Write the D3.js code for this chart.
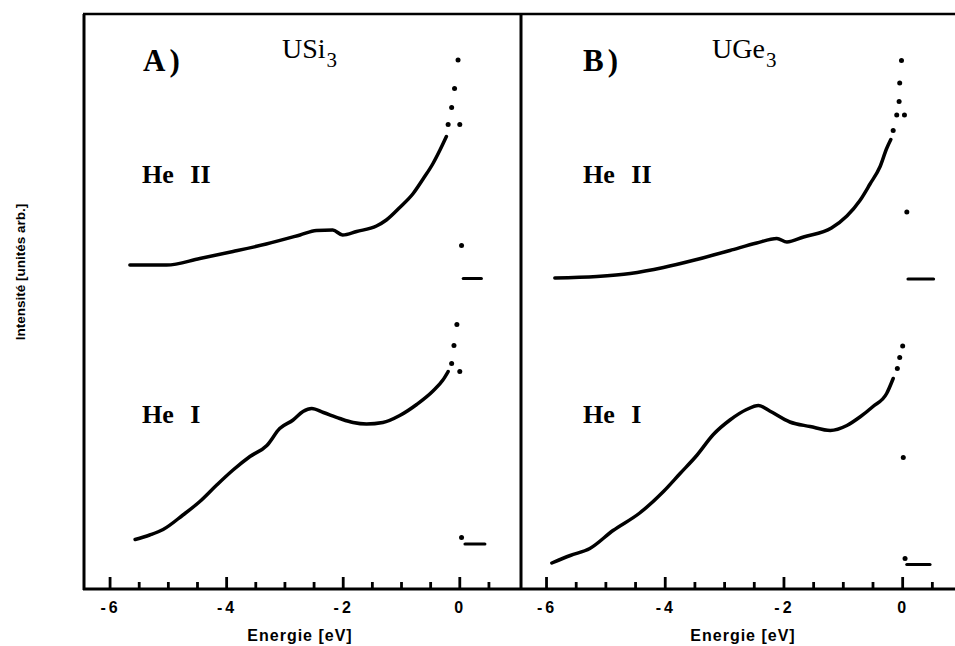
<!DOCTYPE html>
<html>
<head>
<meta charset="utf-8">
<script src="https://cdn.jsdelivr.net/npm/d3@7"></script>
<style>
  body { margin: 0; background: #fff; }
  svg { display: block; }
</style>
</head>
<body>
<div id="chart"></div>
<script>
// values: [energy eV, intensity arb. units]
// A) USi3
const usi3HeII = [[-5.66, 64.8], [-5.03, 64.8], [-4.46, 66.1], [-3.89, 67.5], [-3.32, 69.0], [-2.74, 70.8],
  [-2.46, 71.7], [-2.18, 71.8], [-2.01, 70.8], [-1.77, 71.5], [-1.43, 72.6], [-1.26, 73.8], [-1.03, 76.3],
  [-0.80, 79.1], [-0.63, 82.0], [-0.46, 85.1], [-0.34, 87.8], [-0.23, 90.5]]
const usi3HeIIEdge = [[-0.20, 92.9], [-0.14, 96.3], [-0.09, 100.1], [-0.03, 105.8], [0.00, 92.9], [0.03, 68.7]]
const usi3HeIITail = [[0.06, 62.1], [0.37, 62.1]]

const usi3HeI = [[-5.57, 9.9], [-5.32, 10.8], [-5.09, 11.9], [-4.75, 14.8], [-4.46, 17.5], [-4.17, 20.8],
  [-3.89, 23.8], [-3.60, 26.5], [-3.31, 28.7], [-3.09, 32.1], [-2.86, 33.8], [-2.69, 35.5], [-2.54, 36.1],
  [-2.34, 35.3], [-2.06, 34.1], [-1.83, 33.3], [-1.60, 33.0], [-1.32, 33.3], [-1.03, 34.7], [-0.74, 36.9],
  [-0.46, 39.6], [-0.29, 41.8], [-0.20, 43.5]]
const usi3HeIEdge = [[-0.14, 45.1], [-0.10, 48.7], [-0.05, 52.9], [0.00, 43.5], [0.03, 10.3]]
const usi3HeITail = [[0.09, 9.0], [0.43, 9.0]]

// B) UGe3
const ugeHeII = [[-5.86, 62.2], [-5.15, 62.5], [-4.59, 63.1], [-4.03, 64.3], [-3.47, 65.9], [-2.91, 67.7],
  [-2.46, 69.2], [-2.12, 70.1], [-1.95, 69.4], [-1.67, 70.4], [-1.20, 72.2], [-0.94, 74.6], [-0.72, 77.7],
  [-0.55, 81.0], [-0.38, 84.5], [-0.27, 88.1], [-0.20, 89.9]]
const ugeHeIIEdge = [[-0.16, 91.7], [-0.10, 94.8], [-0.06, 97.5], [-0.05, 101.2], [-0.02, 105.7], [0.03, 94.8], [0.07, 75.4]]
const ugeHeIITail = [[0.09, 62.0], [0.52, 62.0]]

const ugeHeI = [[-5.91, 5.2], [-5.60, 6.7], [-5.27, 8.1], [-4.88, 11.7], [-4.43, 15.2], [-4.03, 19.5],
  [-3.75, 23.1], [-3.47, 26.7], [-3.19, 30.9], [-2.91, 33.8], [-2.63, 35.9], [-2.43, 36.7], [-2.24, 35.6],
  [-1.90, 33.4], [-1.56, 32.5], [-1.22, 31.7], [-0.94, 32.7], [-0.72, 34.4], [-0.50, 36.5], [-0.27, 39.1],
  [-0.16, 42.1]]
const ugeHeIEdge = [[-0.09, 44.1], [-0.05, 46.3], [0.00, 48.6], [0.01, 26.3], [0.04, 6.1]]
const ugeHeITail = [[0.07, 4.9], [0.46, 4.9]]

const majorTicks = [-6, -4, -2, 0]
const minorTicks = [-5.5, -5, -4.5, -3.5, -3, -2.5, -1.5, -1, -0.5, 0.5]
const panelTitles = ['A)', 'B)']
const compounds = [['USi', '3'], ['UGe', '3']]
const seriesNames = ['He II', 'He I']
const xLabel = 'Energie [eV]'
const yLabel = 'Intensité [unités arb.]'

const w = 955
const h = 646
const yTop = 14
const yBottom = 589

let svg = d3.select('#chart').append('svg')
  .attr('width', w)
  .attr('height', h)

let y = d3.scaleLinear().domain([0, 115]).range([yBottom, yTop])

// frame: left axis, bottom axis, top border, divider
let frame = svg.append('g').attr('stroke', '#000').attr('fill', 'none')
frame.append('line').attr('x1', 84).attr('x2', 84).attr('y1', yTop).attr('y2', yBottom + 1).attr('stroke-width', 3)
frame.append('line').attr('x1', 83).attr('x2', w).attr('y1', yBottom).attr('y2', yBottom).attr('stroke-width', 3)
frame.append('line').attr('x1', 83).attr('x2', w).attr('y1', yTop).attr('y2', yTop).attr('stroke-width', 2.5)
frame.append('line').attr('x1', 521).attr('x2', 521).attr('y1', yTop).attr('y2', yBottom).attr('stroke-width', 3)

let panels = [
  {
    x: d3.scaleLinear().domain([-6.43, 1.05]).range([85, 521]),
    title: panelTitles[0], comp: compounds[0],
    curves: [usi3HeII, usi3HeI], edges: [usi3HeIIEdge, usi3HeIEdge], tails: [usi3HeIITail, usi3HeITail],
    titleX: 143, compX: 282, nameX: 142, labelX: 300
  },
  {
    x: d3.scaleLinear().domain([-6.43, 1.05]).range([521, 965]),
    title: panelTitles[1], comp: compounds[1],
    curves: [ugeHeII, ugeHeI], edges: [ugeHeIIEdge, ugeHeIEdge], tails: [ugeHeIITail, ugeHeITail],
    titleX: 583, compX: 712, nameX: 583, labelX: 743
  }
]

let nameY = [183, 423]

panels.forEach(function (p) {
  let g = svg.append('g')

  // tick labels from the axis generator
  g.append('g')
    .attr('transform', 'translate(0,' + yBottom + ')')
    .call(d3.axisBottom(p.x).tickValues(majorTicks).tickSize(0).tickPadding(13)
      .tickFormat(function (d) { return d < 0 ? '-' + Math.abs(d) : String(d) }))
    .call(function (a) {
      a.select('.domain').remove()
      a.selectAll('.tick text')
        .attr('fill', '#000')
        .style('font-family', '"Liberation Sans", Arial, sans-serif')
        .style('font-weight', 'bold')
        .style('font-size', '16px')
        .style('letter-spacing', '3px')
    })

  // inward tick marks: long at even eV, short every 0.5 eV
  let tickData = majorTicks.map(function (d) { return { v: d, len: 12 } })
    .concat(minorTicks.map(function (d) { return { v: d, len: 7 } }))
  g.append('g').selectAll('line')
    .data(tickData)
    .enter().append('line')
    .attr('x1', function (d) { return p.x(d.v) })
    .attr('x2', function (d) { return p.x(d.v) })
    .attr('y1', yBottom)
    .attr('y2', function (d) { return yBottom - d.len })
    .attr('stroke', '#000')
    .attr('stroke-width', 2.8)

  let line = d3.line()
    .x(function (d) { return p.x(d[0]) })
    .y(function (d) { return y(d[1]) })
    .curve(d3.curveMonotoneX)

  p.curves.forEach(function (c) {
    g.append('path')
      .datum(c)
      .attr('d', line)
      .attr('fill', 'none')
      .attr('stroke', '#000')
      .attr('stroke-width', 3.5)
      .attr('stroke-linecap', 'round')
      .attr('stroke-linejoin', 'round')
  })

  p.tails.forEach(function (c) {
    g.append('path')
      .datum(c)
      .attr('d', d3.line().x(function (d) { return p.x(d[0]) }).y(function (d) { return y(d[1]) }))
      .attr('stroke', '#000')
      .attr('stroke-width', 3.2)
      .attr('stroke-linecap', 'round')
  })

  p.edges.forEach(function (c) {
    g.selectAll(null)
      .data(c)
      .enter().append('circle')
      .attr('cx', function (d) { return p.x(d[0]) })
      .attr('cy', function (d) { return y(d[1]) })
      .attr('r', 2.5)
      .attr('fill', '#000')
  })

  // panel letter
  g.append('text')
    .attr('x', p.titleX).attr('y', 71)
    .style('font-family', '"Liberation Serif", "Times New Roman", serif')
    .style('font-weight', 'bold')
    .style('font-size', '31px')
    .style('letter-spacing', '4px')
    .text(p.title)

  // compound with subscript
  let ct = g.append('text')
    .attr('x', p.compX).attr('y', 58)
    .style('font-family', '"Liberation Serif", "Times New Roman", serif')
    .style('font-size', '28px')
  ct.append('tspan').text(p.comp[0])
  ct.append('tspan').attr('dy', 9).attr('dx', 1).style('font-size', '21px').text(p.comp[1])

  seriesNames.forEach(function (n, i) {
    g.append('text')
      .attr('x', p.nameX).attr('y', nameY[i])
      .style('font-family', '"Liberation Serif", "Times New Roman", serif')
      .style('font-weight', 'bold')
      .style('font-size', '26px')
      .style('word-spacing', '10px')
      .text(n)
  })

  g.append('text')
    .attr('x', p.labelX).attr('y', 641)
    .attr('text-anchor', 'middle')
    .style('font-family', '"Liberation Sans", Arial, sans-serif')
    .style('font-weight', 'bold')
    .style('font-size', '16px')
    .style('letter-spacing', '1px')
    .text(xLabel)
})

svg.append('text')
  .attr('transform', 'translate(25,272) rotate(-90)')
  .attr('text-anchor', 'middle')
  .style('font-family', '"Liberation Sans", Arial, sans-serif')
  .style('font-weight', 'bold')
  .style('font-size', '13.5px')
  .text(yLabel)
</script>
</body>
</html>
